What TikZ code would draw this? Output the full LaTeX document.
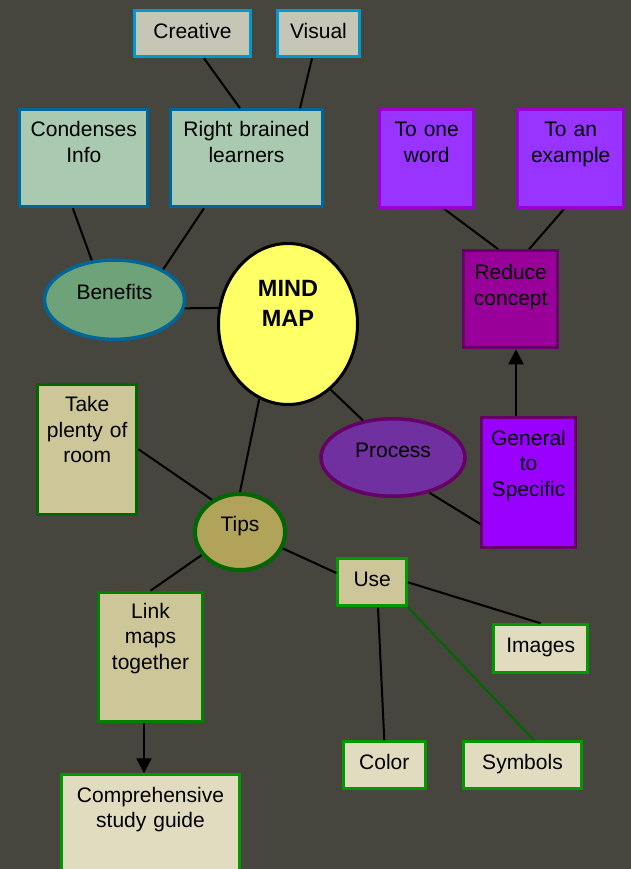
\documentclass[tikz,border=0pt]{standalone}
\usepackage{fontspec}
\setmainfont{Liberation Sans}
\usetikzlibrary{arrows.meta,shapes.geometric}
\definecolor{bg}{HTML}{46463E}
\definecolor{cvFill}{HTML}{C6C6B6}
\definecolor{cvDraw}{HTML}{0099CC}
\definecolor{grFill}{HTML}{A9CAB0}
\definecolor{grDraw}{HTML}{006699}
\definecolor{benFill}{HTML}{6EA37A}
\definecolor{mindFill}{HTML}{FFFF66}
\definecolor{lpFill}{HTML}{9933FF}
\definecolor{lpDraw}{HTML}{9900CC}
\definecolor{redFill}{HTML}{990099}
\definecolor{dkPurple}{HTML}{660066}
\definecolor{procFill}{HTML}{7030A0}
\definecolor{genFill}{HTML}{9900FF}
\definecolor{tanFill}{HTML}{CCC699}
\definecolor{tipsFill}{HTML}{B2A35B}
\definecolor{dkGreen}{HTML}{006600}
\definecolor{mdGreen}{HTML}{007F00}
\definecolor{brGreen}{HTML}{009900}
\definecolor{ltFill}{HTML}{E1DCC0}
\newcommand\fs{\fontsize{21pt}{25.5pt}\selectfont}
\newcommand\bfs{\fontsize{23.5pt}{29.3pt}\selectfont\bfseries}
\begin{document}
\begin{tikzpicture}[x=1pt,y=-1pt,
  every node/.style={inner sep=0pt},
  bx/.style={rectangle, line width=3pt},
  ell/.style={ellipse},
  txt/.style={anchor=base, align=center, font=\fs, text=black, outer sep=0pt},
  conn/.style={line width=2pt, draw=black},
  arr/.style={conn, -{Triangle[length=15pt,width=15pt]}},
]
\path[use as bounding box] (0,0) rectangle (631,869);
\fill[bg] (0,0) rectangle (631,869);
\clip (0,0) rectangle (631,869);

% top row
\node[bx, fill=cvFill, draw=cvDraw, minimum width=116.6pt, minimum height=46pt] (creative) at (192.5,33.8) {};
\node[txt, text width=112pt] (tcreative) at (192.5,39) {Creative};
\node[bx, fill=cvFill, draw=cvDraw, minimum width=81.4pt, minimum height=46pt] (visual) at (318.5,33.8) {};
\node[txt, text width=78pt] (tvisual) at (318.5,39) {Visual};

% benefits branch
\node[bx, fill=grFill, draw=grDraw, minimum width=128pt, minimum height=97pt] (cond) at (83.8,158.3) {};
\node[txt, text width=124pt] (tcond) at (83.8,137) {Condenses\\Info};
\node[bx, fill=grFill, draw=grDraw, minimum width=152.6pt, minimum height=97pt] (rb) at (246.5,158.3) {};
\node[txt, text width=148pt] (trb) at (246.5,137) {Right brained\\learners};
\node[ell, fill=benFill, draw=grDraw, line width=3.5pt, minimum width=140pt, minimum height=79.4pt] (benefits) at (114.5,299.7) {};
\node[txt, text width=120pt] (tbenefits) at (114.5,299) {Benefits};

% process branch
\node[bx, fill=lpFill, draw=lpDraw, minimum width=93.7pt, minimum height=97.7pt] (one) at (426.7,158.7) {};
\node[txt, text width=90pt] (tone) at (426.7,137) {To one\\word};
\node[bx, fill=lpFill, draw=lpDraw, minimum width=105.7pt, minimum height=97.7pt] (example) at (570.7,158.7) {};
\node[txt, text width=102pt] (texample) at (570.7,137) {To an\\example};
\node[bx, fill=redFill, draw=dkPurple, minimum width=93.7pt, minimum height=97pt] (reduce) at (510.7,299.3) {};
\node[txt, text width=90pt] (treduce) at (510.7,279.5) {Reduce\\concept};
\node[ell, fill=procFill, draw=dkPurple, line width=3.5pt, minimum width=144pt, minimum height=77.5pt] (process) at (393,457.5) {};
\node[txt, text width=120pt] (tprocess) at (393,457) {Process};
\node[bx, fill=genFill, draw=dkPurple, minimum width=93.4pt, minimum height=129.7pt] (general) at (528.5,482.3) {};
\node[txt, text width=90pt] (tgeneral) at (528.5,445) {General\\to\\Specific};

% centre
\node[ell, fill=mindFill, draw=black, line width=3pt, minimum width=139pt, minimum height=161pt] (mind) at (288,324) {};
\node[txt, font=\bfs, text width=120pt] (tmind) at (288,296.7) {MIND\\MAP};

% tips branch
\node[bx, fill=tanFill, draw=dkGreen, minimum width=99.3pt, minimum height=130pt] (take) at (87.2,449.2) {};
\node[txt, text width=96pt] (ttake) at (87.2,411.7) {Take\\plenty of\\room};
\node[ell, fill=tipsFill, draw=dkGreen, line width=4pt, minimum width=90pt, minimum height=76pt] (tips) at (240,532) {};
\node[txt, text width=80pt] (ttips) at (240,531.7) {Tips};
\node[bx, fill=tanFill, draw=brGreen, minimum width=68.6pt, minimum height=47pt] (use) at (372.2,582.3) {};
\node[txt, text width=64pt] (tuse) at (372.2,586) {Use};
\node[bx, fill=tanFill, draw=mdGreen, minimum width=104.8pt, minimum height=129.6pt] (link) at (150.5,657) {};
\node[txt, text width=100pt] (tlink) at (150.5,618) {Link\\maps\\together};
\node[bx, fill=ltFill, draw=brGreen, minimum width=93.9pt, minimum height=47.4pt] (images) at (540.7,648.5) {};
\node[txt, text width=90pt] (timages) at (540.7,652.7) {Images};
\node[bx, fill=ltFill, draw=brGreen, minimum width=81.6pt, minimum height=46.4pt] (color) at (384.3,765) {};
\node[txt, text width=78pt] (tcolor) at (384.3,769.3) {Color};
\node[bx, fill=ltFill, draw=brGreen, minimum width=118pt, minimum height=46.4pt] (symbols) at (522.5,765) {};
\node[txt, text width=114pt] (tsymbols) at (522.5,769.3) {Symbols};
\node[bx, fill=ltFill, draw=brGreen, minimum width=177.2pt, minimum height=145.2pt] (comp) at (150.5,847.4) {};
\node[txt, text width=172pt] (tcomp) at (150.5,802.3) {Comprehensive\\study guide};

% connectors
\draw[conn] ([xshift=11.5pt]creative.south) -- ([xshift=-6.5pt]rb.north);
\draw[conn] ([xshift=-6.5pt]visual.south) -- ([xshift=53.5pt]rb.north);
\draw[conn] ([xshift=-11pt]cond.south) -- (benefits.120);
\draw[conn] ([xshift=-42.5pt]rb.south) -- (benefits.32);
\draw[conn] (benefits.-7) -- (mind.167);
\draw[conn] ([xshift=17.6pt]one.south) -- ([xshift=-12.4pt]reduce.north);
\draw[conn] ([xshift=-6.7pt]example.south) -- ([xshift=18.3pt]reduce.north);
\draw[arr] ([xshift=-12.5pt]general.north) -- ([xshift=-12.5pt]general.north |- reduce.south);
\draw[conn] (mind.-57.7) -- (process.129);
\draw[conn] (process.-44.6) -- ([yshift=-41.7pt]general.west);
\draw[conn] (mind.-111) -- (tips.north);
\draw[conn] (take.east) -- (tips.131);
\draw[conn] (tips.-149) -- (link.north);
\draw[conn] (tips.-21.6) -- ([yshift=9.3pt]use.west);
\draw[conn] (use.east) -- (images.north);
\draw[conn] ([xshift=5.8pt]use.south) -- (color.north);
\draw[conn, draw=dkGreen] (use.south east) -- ([xshift=11.5pt]symbols.north);
\draw[arr] ([xshift=-6.5pt]link.south) -- ([xshift=-6.5pt]link.south |- comp.north);
\end{tikzpicture}
\end{document}
